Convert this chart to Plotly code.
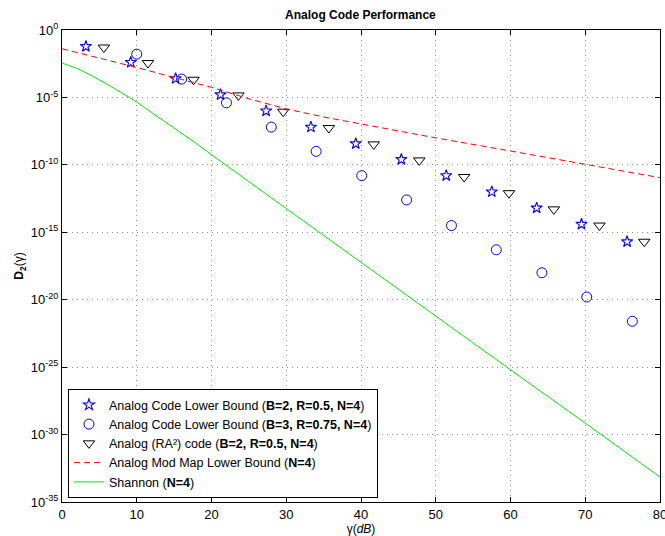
import numpy as np
import plotly.graph_objects as go

# ---- data (log10 of D2 values) ----
star_x = [3.2, 9.2, 15.2, 21.2, 27.3, 33.3, 39.3, 45.4, 51.4, 57.5, 63.5, 69.5, 75.6]
star_log = [-1.22, -2.4, -3.6, -4.8, -6.0, -7.2, -8.43, -9.6, -10.8, -12.0, -13.2, -14.4, -15.7]

circ_x = [10.0, 16.0, 22.0, 28.0, 34.0, 40.1, 46.1, 52.1, 58.1, 64.2, 70.2, 76.3]
circ_log = [-1.79, -3.64, -5.4, -7.2, -9.0, -10.8, -12.6, -14.5, -16.3, -18.0, -19.8, -21.6]

tri_x = [5.6, 11.5, 17.6, 23.6, 29.6, 35.7, 41.7, 47.8, 53.8, 59.8, 65.8, 71.9, 77.9]
tri_log = [-1.3, -2.45, -3.69, -4.85, -6.06, -7.27, -8.48, -9.67, -10.9, -12.1, -13.3, -14.5, -15.7]

mod_x = [0, 5, 10, 15, 20, 25, 30, 35, 40, 50, 60, 70, 80]
mod_log = [-1.39, -2.08, -2.78, -3.52, -4.25, -5.1, -5.85, -6.45, -6.97, -8.0, -8.97, -9.98, -10.95]

shan_x = [0, 2, 4, 6, 8, 10, 12, 14, 16, 18, 20, 25, 30, 40, 50, 60, 70, 80]
shan_log = [-2.45, -2.85, -3.38, -3.99, -4.66, -5.35, -6.11, -6.87, -7.64, -8.43, -9.25, -11.25, -13.25,
            -17.2, -21.2, -25.2, -29.15, -33.15]

x_ticks = [0, 10, 20, 30, 40, 50, 60, 70, 80]
y_exps = [0, -5, -10, -15, -20, -25, -30, -35]

FONT = "Liberation Sans, Arial, Helvetica, sans-serif"

def pw(v):
    return (10.0 ** np.array(v)).tolist()

fig = go.Figure()
fig.add_trace(go.Scatter(
    x=star_x, y=pw(star_log), mode="markers",
    name="Analog Code Lower Bound (<b>B=2, R=0.5, N=4</b>)",
    marker=dict(symbol="star-open", size=8.5, color="#0000ff", line=dict(width=1.1, color="#0000ff"))))
fig.add_trace(go.Scatter(
    x=circ_x, y=pw(circ_log), mode="markers",
    name="Analog Code Lower Bound (<b>B=3, R=0.75, N=4</b>)",
    marker=dict(symbol="circle-open", size=10, color="#0000ff", line=dict(width=1, color="#0000ff"))))
fig.add_trace(go.Scatter(
    x=tri_x, y=pw(tri_log), mode="markers",
    name="Analog (RA²) code (<b>B=2, R=0.5, N=4</b>)",
    marker=dict(symbol="triangle-down-open", size=10, color="#000000", line=dict(width=1, color="#000000"))))
fig.add_trace(go.Scatter(
    x=mod_x, y=pw(mod_log), mode="lines",
    name="Analog Mod Map Lower Bound (<b>N=4</b>)",
    line=dict(color="#ff0000", width=1, dash="6px,4px")))
fig.add_trace(go.Scatter(
    x=shan_x, y=pw(shan_log), mode="lines",
    name="Shannon (<b>N=4</b>)",
    line=dict(color="#00ee00", width=1)))

axis_common = dict(
    showline=True, linecolor="black", linewidth=1, mirror="ticks",
    ticks="inside", ticklen=5, tickcolor="black",
    showgrid=True, gridcolor="#909090", griddash="1px,4px", gridwidth=1,
    zeroline=False, tickfont=dict(family=FONT, size=13, color="black"),
    ticklabeloverflow="allow", automargin=False,
)

fig.update_layout(
    width=665, height=536,
    margin=dict(l=62, r=5, t=30, b=34, autoexpand=False),
    paper_bgcolor="white", plot_bgcolor="white",
    font=dict(family=FONT, size=12, color="black"),
    title=dict(text="<b>Analog Code Performance</b>", x=0.542, xanchor="center",
               y=0.972, yanchor="middle", font=dict(family=FONT, size=12)),
    showlegend=True,
    legend=dict(x=0.01, y=0.008, xanchor="left", yanchor="bottom",
                bgcolor="white", bordercolor="black", borderwidth=1,
                font=dict(family=FONT, size=12.5), tracegroupgap=0, itemwidth=30),
    xaxis=dict(range=[0, 80], tickvals=x_ticks, ticktext=[str(v) for v in x_ticks],
               title=dict(text="γ(<i>dB</i>)", standoff=10, font=dict(family=FONT, size=12)),
               **axis_common),
    yaxis=dict(type="log", range=[-35, 0], tickvals=[10.0 ** e for e in y_exps],
               ticktext=["10<sup>%s</sup>" % (str(e)) for e in y_exps],
               title=dict(text="<b>D</b><sub><b>2</b></sub>(γ)", standoff=4, font=dict(family=FONT, size=12)),
               **axis_common),
)

fig.write_html("out.html")
